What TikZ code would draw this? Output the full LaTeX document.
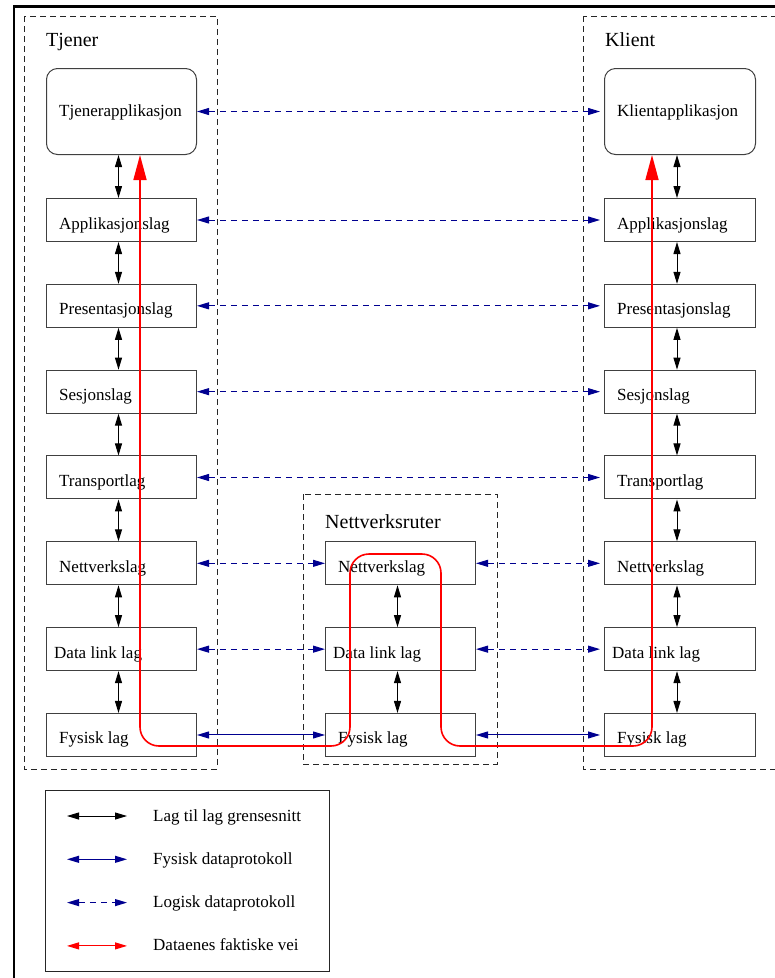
\documentclass[tikz,border=0pt]{standalone}
\usepackage{fontspec}
\setmainfont{Liberation Serif}
\usetikzlibrary{arrows.meta}
\definecolor{protoblue}{RGB}{0,0,144}
\begin{document}
\begin{tikzpicture}[x=1pt,y=-1pt,
  layerbox/.style={draw=black!75, line width=1pt, rectangle, minimum width=150pt,
    minimum height=43pt, anchor=north west, inner sep=0pt},
  appbox/.style={layerbox, minimum height=86pt, rounded corners=11pt},
  boxtext/.style={anchor=base west, inner sep=0pt, font=\fontsize{17}{20}\selectfont},
  grouptext/.style={anchor=base west, inner sep=0pt, font=\fontsize{20}{24}\selectfont},
  group/.style={draw=black!85, line width=0.9pt, dash pattern=on 6pt off 4pt},
  iface/.style={draw=black, line width=1pt, {Triangle[length=12pt,width=7pt]}-{Triangle[length=12pt,width=7pt]}},
  phys/.style={draw=protoblue, line width=1pt, {Triangle[length=12pt,width=7pt]}-{Triangle[length=12pt,width=7pt]}},
  logic/.style={phys, dash pattern=on 6pt off 5pt},
  datapath/.style={draw=red, line width=1.6pt, rounded corners=19pt,
    {Triangle[length=25pt,width=13pt]}-{Triangle[length=25pt,width=13pt]}},
  legendpath/.style={draw=red, line width=1pt, {Triangle[length=12pt,width=7pt]}-{Triangle[length=12pt,width=7pt]}},
]
\path[use as bounding box, clip] (0,0) rectangle (775,978);

% outer frame
\draw[line width=2.5pt] (14,6.5) rectangle (800,1000);

% groups
\draw[group] (24,16) rectangle (217,769);
\draw[group] (583,16) rectangle (777,769);
\draw[group] (303,494) rectangle (497,764);
\node[grouptext] (tjener) at (46,46.7) {Tjener};
\node[grouptext] (klient) at (605,46.7) {Klient};
\node[grouptext] (ruter) at (325,528) {Nettverksruter};

% applications
\node[appbox] (S0) at (46,68) {};
\node[boxtext] (S0t) at ([shift={(13,48)}]S0.north west) {Tjenerapplikasjon};
\node[appbox, minimum width=151pt] (K0) at (604,68) {};
\node[boxtext] (K0t) at ([shift={(13,48)}]K0.north west) {Klientapplikasjon};

% layer stacks
\foreach \i/\txt/\dx in {1/Applikasjonslag/13, 2/Presentasjonslag/13, 3/Sesjonslag/13,
    4/Transportlag/13, 5/Nettverkslag/13, 6/Data link lag/8, 7/Fysisk lag/13} {
  \node[layerbox] (S\i) at (46,{198+85.83*(\i-1)}) {};
  \node[boxtext] (S\i t) at ([shift={(\dx,31)}]S\i.north west) {\txt};
  \node[layerbox, minimum width=151pt] (K\i) at (604,{198+85.83*(\i-1)}) {};
  \node[boxtext] (K\i t) at ([shift={(\dx,31)}]K\i.north west) {\txt};
}
\foreach \i/\txt/\dx in {5/Nettverkslag/13, 6/Data link lag/8, 7/Fysisk lag/13} {
  \node[layerbox] (R\i) at (325,{198+85.83*(\i-1)}) {};
  \node[boxtext] (R\i t) at ([shift={(\dx,31)}]R\i.north west) {\txt};
}

% layer-to-layer interfaces
\foreach \i [evaluate=\i as \j using int(\i+1)] in {0,...,6} {
  \draw[iface] ([xshift=-3pt]S\i.south) -- ([xshift=-3pt]S\j.north);
  \draw[iface] ([xshift=-3pt]K\i.south) -- ([xshift=-3pt]K\j.north);
}
\foreach \i [evaluate=\i as \j using int(\i+1)] in {5,6} {
  \draw[iface] ([xshift=-3pt]R\i.south) -- ([xshift=-3pt]R\j.north);
}

% logical protocols
\foreach \i in {0,...,4} {
  \draw[logic] (S\i.east) -- ([xshift=-4pt]K\i.west);
}
\foreach \i in {5,6} {
  \draw[logic] (S\i.east) -- (R\i.west);
  \draw[logic] (R\i.east) -- ([xshift=-4pt]K\i.west);
}

% physical protocol
\draw[phys] (S7.east) -- (R7.west);
\draw[phys] (R7.east) -- ([xshift=-4pt]K7.west);

% actual data path
\coordinate (p1) at (140,746);
\coordinate (p2) at (350,746);
\coordinate (p3) at (350,554);
\coordinate (p4) at (441,554);
\coordinate (p5) at (441,746);
\coordinate (p6) at (652,746);
\draw[datapath] (S0.south -| p1) -- (p1) -- (p2) -- (p3) -- (p4) -- (p5) -- (p6) -- (K0.south -| p6);

% legend
\node[draw=black!85, line width=1.2pt, anchor=north west, minimum width=284pt,
  minimum height=181pt, inner sep=0pt] (legend) at (45,790) {};
\foreach \k/\txt in {0/Lag til lag grensesnitt, 1/Fysisk dataprotokoll,
    2/Logisk dataprotokoll, 3/Dataenes faktiske vei} {
  \coordinate (la\k) at (67,{816+43.3*\k});
  \coordinate (lb\k) at (127,{816+43.3*\k});
  \node[boxtext] (lt\k) at (153,{821+43.3*\k}) {\txt};
}
\draw[iface] (la0) -- (lb0);
\draw[phys] (la1) -- (lb1);
\draw[logic] (la2) -- (lb2);
\draw[legendpath] (la3) -- (lb3);
\end{tikzpicture}
\end{document}
